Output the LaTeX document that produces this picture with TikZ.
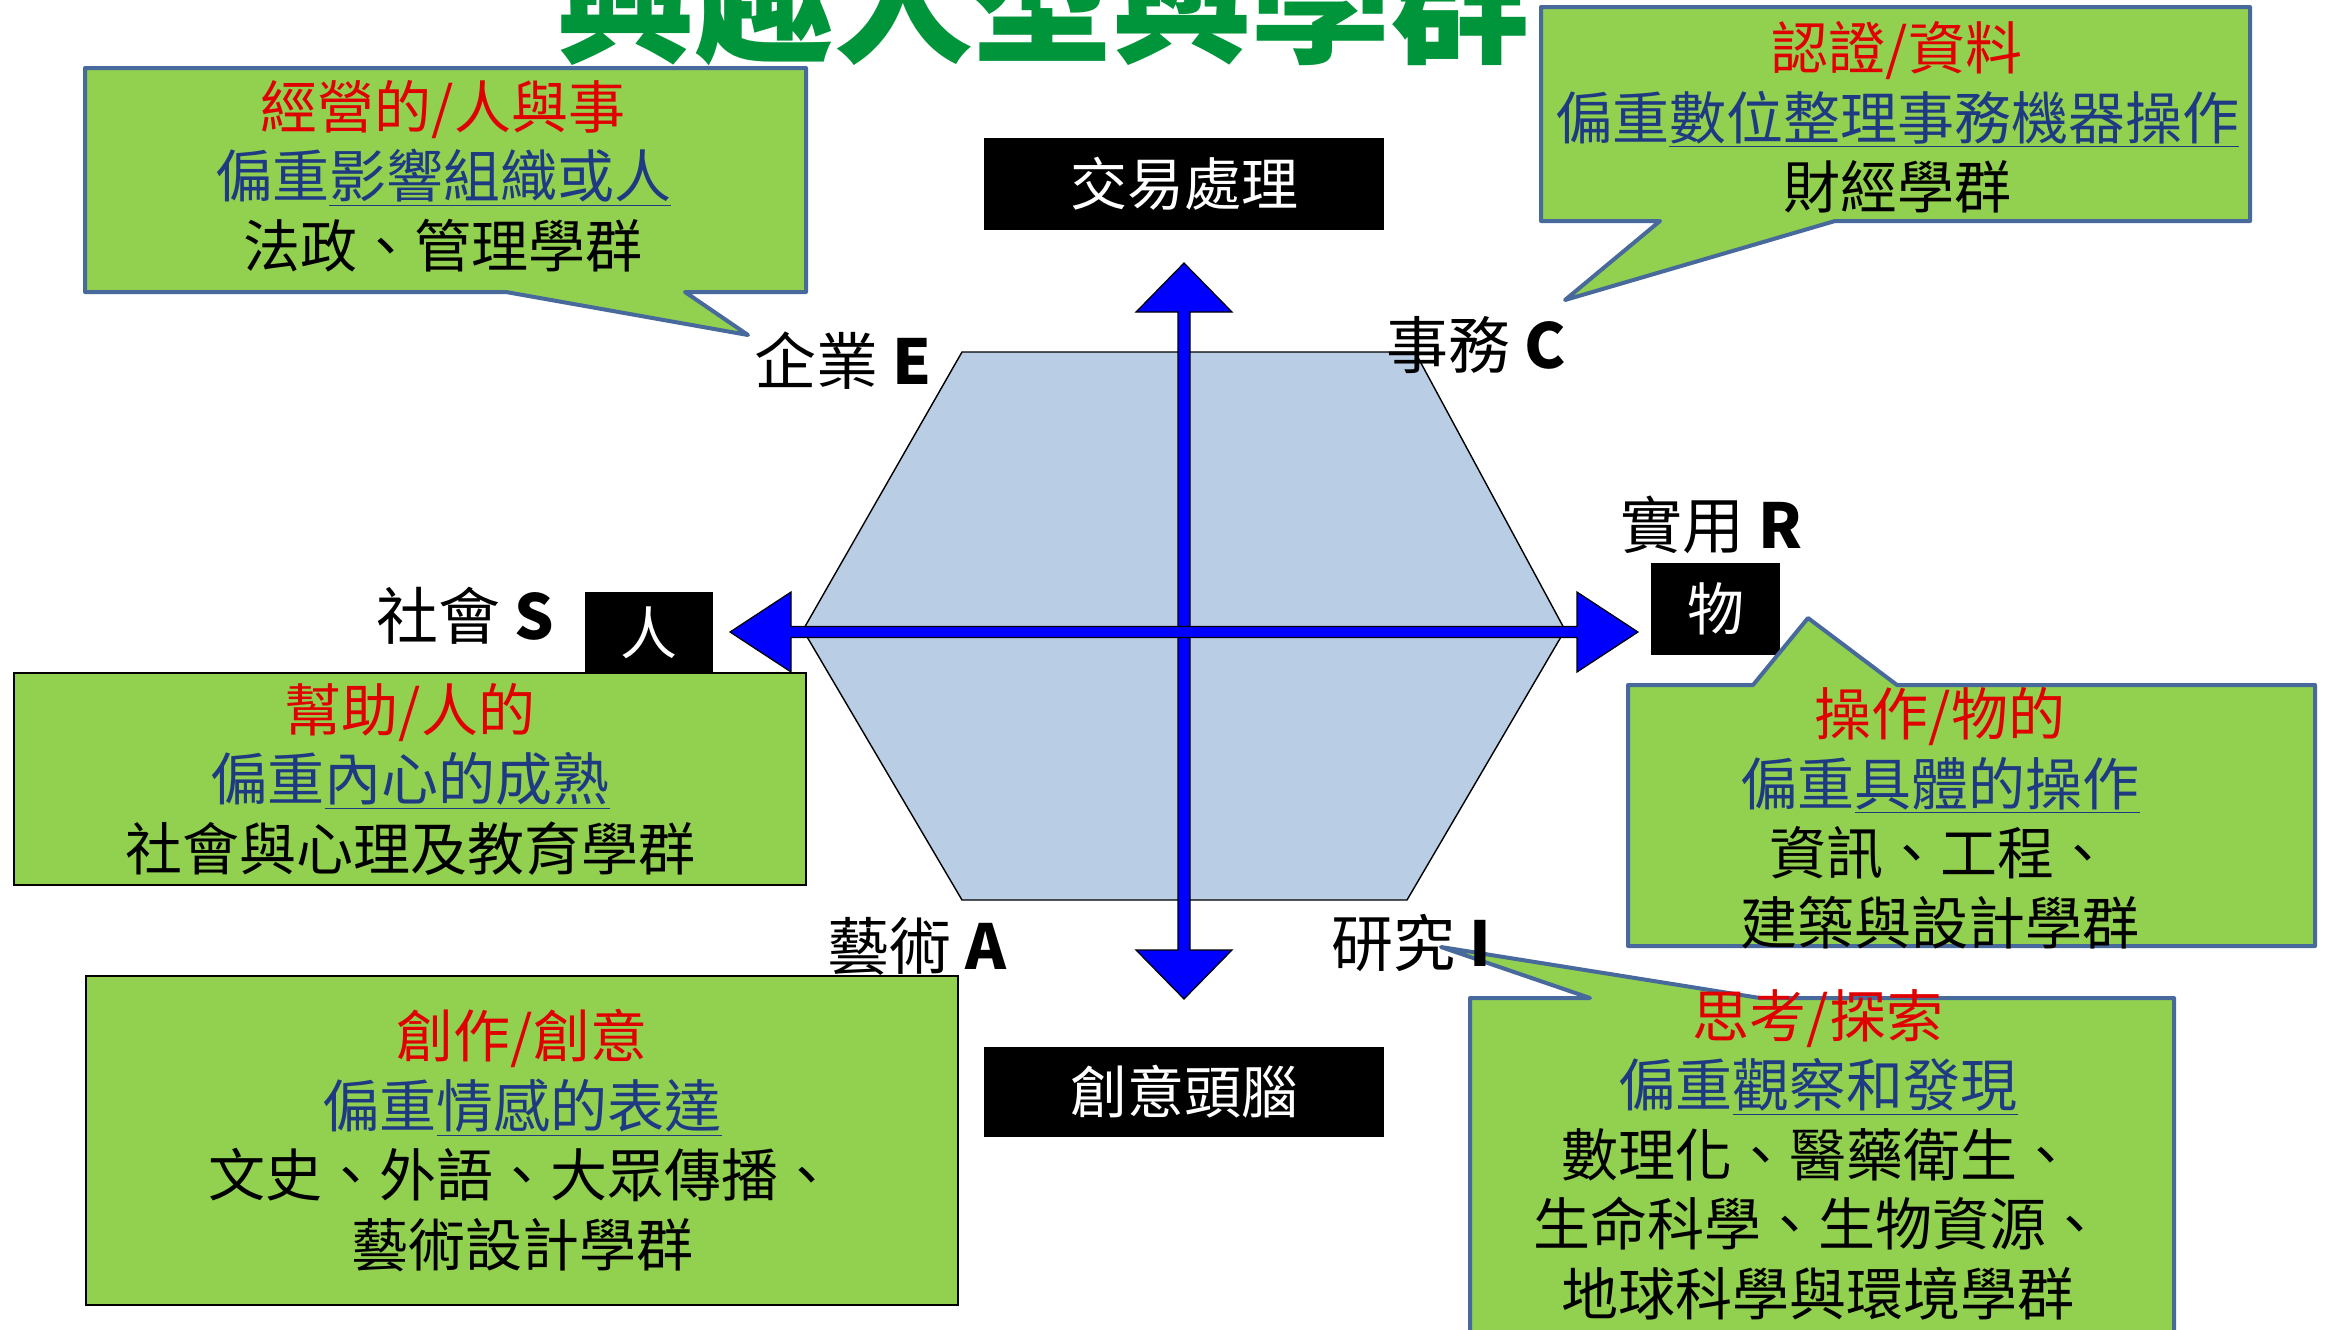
\documentclass[tikz,border=0pt]{standalone}
\usepackage{fontspec}
\setmainfont{Noto Sans CJK TC}
\usepackage{tikz}
\usetikzlibrary{calc}
\definecolor{boxgreen}{HTML}{92D050}
\definecolor{calloutedge}{HTML}{47699B}
\definecolor{hexfill}{HTML}{B9CDE5}
\definecolor{headred}{HTML}{E00000}
\definecolor{focusblue}{HTML}{1F3A82}
\definecolor{titlegreen}{HTML}{00953A}

\begin{document}
\begin{tikzpicture}[x=0.5pt, y=-0.5pt,
    boxtext/.style={align=center, font=\fontsize{28.5}{34.75}\selectfont},
    greenbox/.style={draw=black, line width=0.7pt, fill=boxgreen, inner sep=0pt, boxtext},
    callout/.style={draw=calloutedge, line width=2pt, fill=boxgreen, line join=round},
    tagbox/.style={fill=black, text=white, inner sep=0pt, font=\fontsize{28.5}{34}\selectfont},
    typelabel/.style={font=\fontsize{31}{36}\selectfont},
    axis/.style={fill=blue, draw=black, line width=0.6pt}]
    % Page
    \useasboundingbox (0,0) rectangle (2328,1329);
    \clip (0,0) rectangle (2328,1329);
    \fill[white] (0,0) rectangle (2328,1329);
    % Title
    \node[font=\fontsize{69.5}{70}\selectfont\bfseries, text=titlegreen, anchor=base] (title) at (1043,52) {興趣人型與學群};
    % Hexagon
    \filldraw[fill=hexfill, draw=black, line width=0.7pt] (962,352) -- (1415,352) -- (1565,630)
        -- (1407,900) -- (962,900) -- (803,630) -- cycle;
    % Axes
    \coordinate (up) at (1184,263);
    \coordinate (down) at (1184,999);
    \coordinate (west) at (730,632);
    \coordinate (east) at (1638,632);
    \filldraw[axis] (up) -- ++(48,49) -- ++(-42,0) -- ($(down)+(6,-49)$) -- ++(42,0) -- (down)
        -- ++(-48,-49) -- ++(42,0) -- ($(up)+(-6,49)$) -- ++(-42,0) -- cycle;
    \filldraw[axis] (west) -- ++(61,-40) -- ++(0,34.5) -- ($(east)+(-61,-5.5)$) -- ++(0,-34.5) -- (east)
        -- ++(-61,40) -- ++(0,-34.5) -- ($(west)+(61,5.5)$) -- ++(0,34.5) -- cycle;
    % Black tags
    \node[tagbox, minimum width=200pt, minimum height=46pt] (trade) at (1184,184) {交易處理};
    \node[tagbox, minimum width=200pt, minimum height=45pt] (idea) at (1184,1092) {創意頭腦};
    \node[tagbox, minimum width=64pt, minimum height=40.5pt] (people) at (649,632.5) {人};
    \node[tagbox, minimum width=64.5pt, minimum height=46pt] (things) at (1715.5,609) {物};
    % Callouts
    \coordinate (tipE) at (748,335);
    \coordinate (tipC) at (1565,300);
    \coordinate (tipR) at (1808,618);
    \coordinate (tipI) at (1441,947);
    \filldraw[callout] (85,68) -- (806,68) -- (806,292) -- (685,292) -- (tipE) -- (506,292) -- (85,292) -- cycle;
    \filldraw[callout] (1541,7) -- (2250,7) -- (2250,221) -- (1835,221) -- (tipC) -- (1660,221) -- (1541,221) -- cycle;
    \filldraw[callout] (1628,685) -- (1753,685) -- (tipR) -- (1897,685) -- (2315,685) -- (2315,946) -- (1628,946) -- cycle;
    \filldraw[callout] (1470,998) -- (1590,998) -- (tipI) -- (1760,998) -- (2174,998) -- (2174,1345) -- (1470,1345) -- cycle;
    \node[boxtext] (managetext) at (443,176) {\textcolor{headred}{經營的/人與事}\\
        \textcolor{focusblue}{偏重\underline{影響組織或人}}\\ 法政、管理學群};
    \node[boxtext] (datatext) at (1897,117.5) {\textcolor{headred}{認證/資料}\\
        \textcolor{focusblue}{偏重\underline{數位整理事務機器操作}}\\ 財經學群};
    \node[boxtext] (handletext) at (1940,818) {\textcolor{headred}{操作/物的}\\
        \textcolor{focusblue}{偏重\underline{具體的操作}}\\ 資訊、工程、\\ 建築與設計學群};
    \node[boxtext] (thinktext) at (1818,1154.5) {\textcolor{headred}{思考/探索}\\
        \textcolor{focusblue}{偏重\underline{觀察和發現}}\\ 數理化、醫藥衛生、\\ 生命科學、生物資源、\\ 地球科學與環境學群};
    % Plain boxes
    \node[greenbox, minimum width=396pt, minimum height=106pt] (helpbox) at (410,779) {\textcolor{headred}{幫助/人的}\\
        \textcolor{focusblue}{偏重\underline{內心的成熟}}\\ 社會與心理及教育學群};
    \node[greenbox, minimum width=436pt, minimum height=164.5pt] (createbox) at (522,1140.5) {\textcolor{headred}{創作/創意}\\
        \textcolor{focusblue}{偏重\underline{情感的表達}}\\ 文史、外語、大眾傳播、\\ 藝術設計學群};
    % Type labels
    \node[typelabel] (E) at (843,361) {企業 \textbf{E}};
    \node[typelabel] (C) at (1476,345) {事務 \textbf{C}};
    \node[typelabel] (R) at (1711,525) {實用 \textbf{R}};
    \node[typelabel] (S) at (465,616) {社會 \textbf{S}};
    \node[typelabel] (A) at (917,946) {藝術 \textbf{A}};
    \node[typelabel] (I) at (1411,943) {研究 \textbf{I}};
\end{tikzpicture}
\end{document}
